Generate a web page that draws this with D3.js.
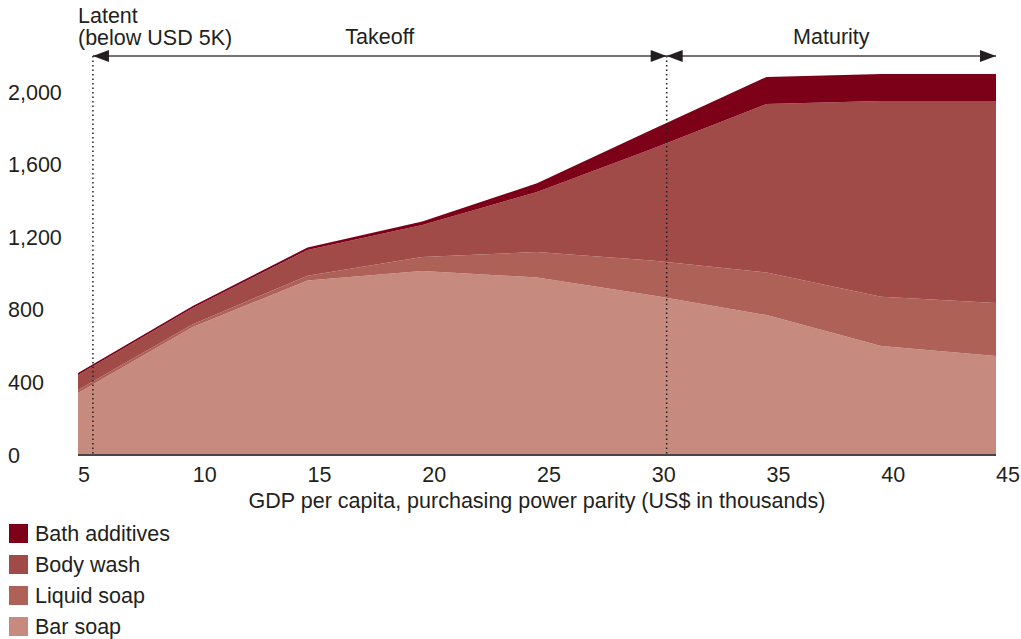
<!DOCTYPE html>
<html>
<head>
<meta charset="utf-8">
<script src="https://cdn.jsdelivr.net/npm/d3@7"></script>
<style>
  body { margin: 0; background: #fff; }
  text { font-family: "Liberation Sans", Arial, sans-serif; fill: #231f20; }
</style>
</head>
<body>
<div id="chart"></div>
<script>
var width = 1021;
var height = 639;

// data
var gdp = [5, 10, 15, 20, 25, 30, 35, 40, 45];
var barSoap = [342, 705, 962, 1014, 978, 880, 771, 600, 545];
var liquidSoap = [16, 15, 26, 77, 140, 192, 234, 272, 292];
var bodyWash = [83, 90, 142, 176, 331, 614, 929, 1078, 1113];
var bathAdditives = [11, 11, 13, 19, 48, 106, 149, 149, 149];

var seriesNames = ["Bar soap", "Liquid soap", "Body wash", "Bath additives"];
var seriesColors = ["#c68a7f", "#ad6157", "#a04b47", "#7d0019"];
var xTicks = [5, 10, 15, 20, 25, 30, 35, 40, 45];
var yTicks = [0, 400, 800, 1200, 1600, 2000];

var phases = [
  {name: "Takeoff", from: 5.65, to: 30.65},
  {name: "Maturity", from: 30.65, to: 45}
];
var phaseBreaks = [5.65, 30.65];

var fs = 21.5;

var svg = d3.select("#chart").append("svg")
  .attr("width", width)
  .attr("height", height);

var x = d3.scaleLinear().domain([5, 45]).range([78, 996]);
var y = d3.scaleLinear().domain([0, 2000]).range([455, 92]);

var rows = gdp.map(function(g, i) {
  return {gdp: g, "Bar soap": barSoap[i], "Liquid soap": liquidSoap[i],
          "Body wash": bodyWash[i], "Bath additives": bathAdditives[i]};
});

var stack = d3.stack().keys(seriesNames);
var layers = stack(rows);

var area = d3.area()
  .x(function(d) { return x(d.data.gdp); })
  .y0(function(d) { return y(d[0]); })
  .y1(function(d) { return y(d[1]); });

svg.selectAll(".layer")
  .data(layers)
  .enter().append("path")
  .attr("class", "layer")
  .attr("d", area)
  .attr("fill", function(d, i) { return seriesColors[i]; });

// baseline
svg.append("line")
  .attr("x1", x(5)).attr("x2", x(45))
  .attr("y1", y(0)).attr("y2", y(0))
  .attr("stroke", "#4a4445")
  .attr("stroke-width", 2);

// x tick labels (left aligned at tick)
svg.selectAll(".xt")
  .data(xTicks)
  .enter().append("text")
  .attr("x", function(d) { return x(d); })
  .attr("y", 482)
  .attr("font-size", fs)
  .text(function(d) { return d; });

svg.append("text")
  .attr("x", 537)
  .attr("y", 508)
  .attr("text-anchor", "middle")
  .attr("font-size", fs)
  .text("GDP per capita, purchasing power parity (US$ in thousands)");

// y tick labels
svg.selectAll(".yt")
  .data(yTicks)
  .enter().append("text")
  .attr("x", 8)
  .attr("y", function(d) { return y(d); })
  .attr("dy", "0.35em")
  .attr("font-size", fs)
  .text(function(d) { return d3.format(",")(d); });

// phase markers
svg.selectAll(".brk")
  .data(phaseBreaks)
  .enter().append("line")
  .attr("x1", function(d) { return x(d); })
  .attr("x2", function(d) { return x(d); })
  .attr("y1", 56).attr("y2", y(0))
  .attr("stroke", "#231f20")
  .attr("stroke-width", 1.5)
  .attr("stroke-dasharray", "1.5,3");

var arrowY = 56;
phases.forEach(function(p) {
  var x1 = x(p.from), x2 = x(p.to);
  svg.append("line")
    .attr("x1", x1).attr("x2", x2)
    .attr("y1", arrowY).attr("y2", arrowY)
    .attr("stroke", "#444")
    .attr("stroke-width", 1.5);
  svg.append("path")
    .attr("d", "M" + x1 + "," + arrowY + "l16,-6l0,12z")
    .attr("fill", "#231f20");
  svg.append("path")
    .attr("d", "M" + x2 + "," + arrowY + "l-16,-6l0,12z")
    .attr("fill", "#231f20");
  svg.append("text")
    .attr("x", (x1 + x2) / 2)
    .attr("y", 44)
    .attr("text-anchor", "middle")
    .attr("font-size", fs)
    .text(p.name);
});

svg.append("text")
  .attr("x", 78).attr("y", 23)
  .attr("font-size", fs)
  .text("Latent");
svg.append("text")
  .attr("x", 78).attr("y", 45)
  .attr("font-size", fs)
  .text("(below USD 5K)");

// legend, top to bottom
var legendOrder = seriesNames.slice().reverse();
var legend = svg.selectAll(".legend")
  .data(legendOrder)
  .enter().append("g")
  .attr("transform", function(d, i) { return "translate(9," + (524 + i * 31) + ")"; });

legend.append("rect")
  .attr("width", 19).attr("height", 19)
  .attr("fill", function(d) { return seriesColors[seriesNames.indexOf(d)]; });

legend.append("text")
  .attr("x", 26)
  .attr("y", 17)
  .attr("font-size", fs)
  .text(function(d) { return d; });
</script>
</body>
</html>
